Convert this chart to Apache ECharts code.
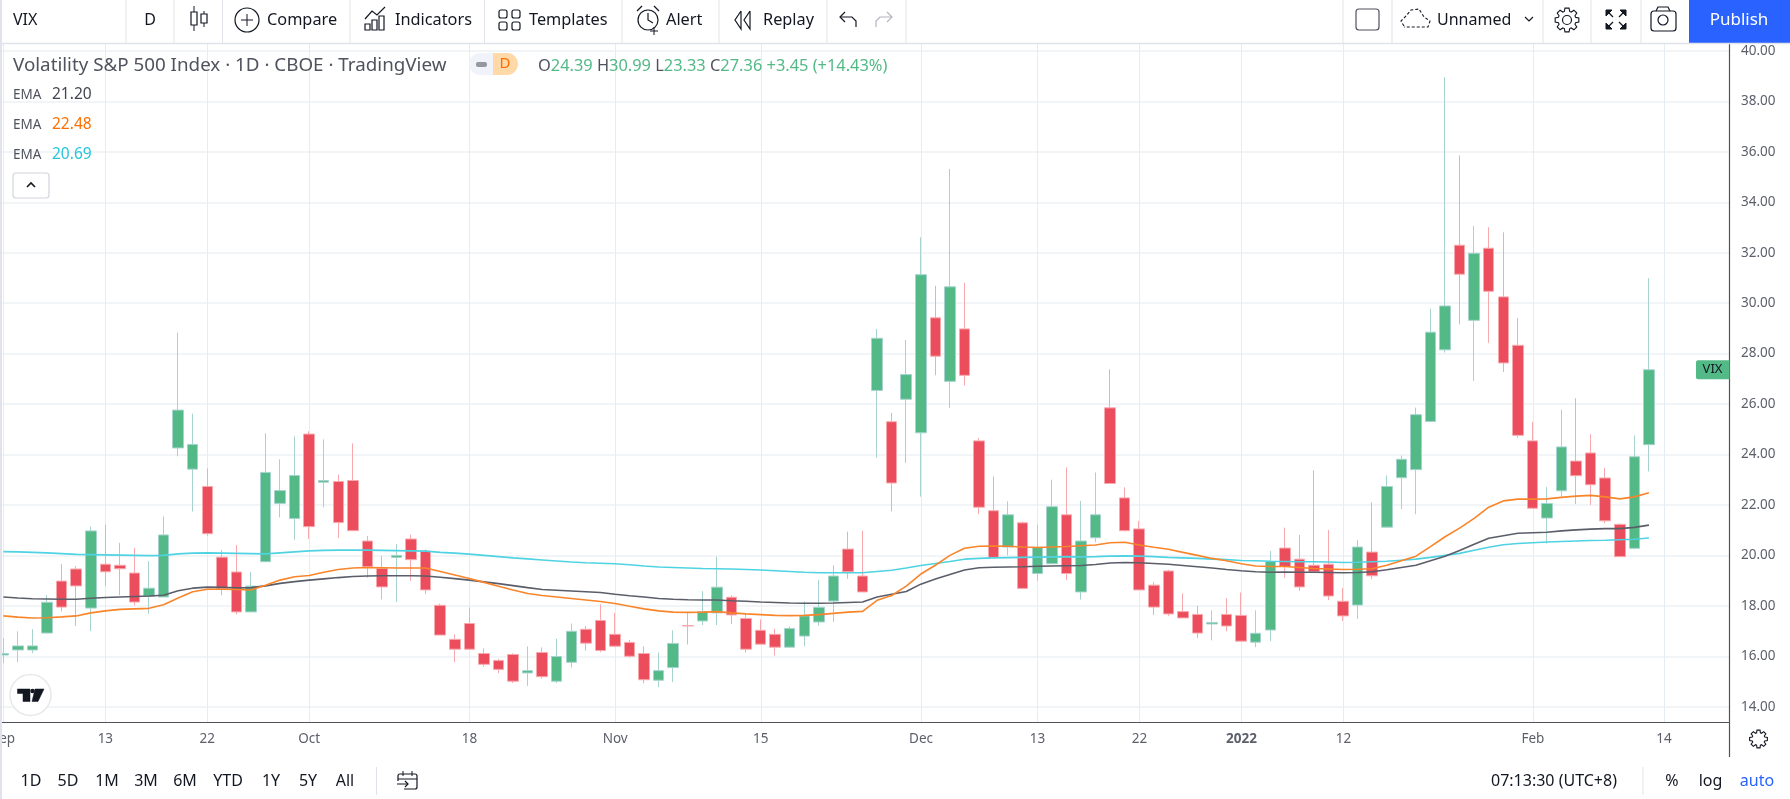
<!DOCTYPE html>
<html>
<head>
<meta charset="utf-8">
<title>VIX</title>
<style>
  html, body { margin: 0; padding: 0; background: #fff; }
  #main { width: 1790px; height: 799px; }
</style>
<script src="https://cdn.jsdelivr.net/npm/echarts@6/dist/echarts.min.js"></script>
</head>
<body>
<div id="main"></div>
<script>
// daily candles
const opens = [
  16.05,16.25,16.25,16.92,18.98,19.46,17.91,19.65,19.61,19.3,
  18.38,18.35,24.26,23.42,22.73,19.93,19.34,17.76,19.75,22.06,
  21.46,24.81,22.9,22.93,22.97,20.57,19.48,19.92,20.65,20.17,
  18.02,16.67,17.3,16.11,15.83,16.07,15.34,16.15,15.01,15.76,
  17.07,17.42,16.87,16.55,16.11,15.05,15.55,17.22,17.4,17.72,
  18.34,17.5,17.03,16.87,16.36,16.8,17.36,18.19,20.25,19.18,
  26.54,25.3,26.19,24.86,29.42,26.9,28.98,24.54,21.77,20.33,
  21.29,19.28,19.67,21.61,18.55,20.7,25.85,22.28,21.05,18.82,
  19.38,17.77,17.66,17.28,17.66,17.62,16.56,17.04,20.29,19.85,
  19.61,19.65,18.18,18.03,20.13,21.12,23.08,23.4,25.31,28.15,
  32.3,29.32,32.18,30.25,28.33,24.54,21.48,22.56,23.74,24.06,
  23.07,21.23,20.28,24.39
];
const closes = [
  16.11,16.41,16.41,18.14,17.95,18.79,20.97,19.35,19.47,18.15,
  18.7,20.81,25.76,24.4,20.86,18.69,17.76,18.78,23.29,22.57,
  23.17,21.14,22.97,21.3,20.98,19.55,18.75,20.0,19.83,18.63,
  16.84,16.28,16.28,15.68,15.48,15.01,15.43,15.19,15.99,16.99,
  16.52,16.23,16.4,16.0,15.07,15.43,16.51,17.2,17.77,18.74,
  17.64,16.28,16.48,16.36,17.1,17.6,17.94,19.18,19.35,18.55,
  28.61,22.87,27.17,31.13,27.9,30.65,27.14,21.91,19.92,21.61,
  18.69,20.32,21.93,19.28,20.57,21.61,22.85,20.98,18.63,17.95,
  17.68,17.52,16.92,17.34,17.2,16.6,16.91,19.76,19.56,18.75,
  19.35,18.39,17.6,20.33,19.19,22.73,23.81,25.58,28.85,29.89,
  31.15,31.98,30.47,27.63,24.76,21.87,22.06,24.3,23.16,22.8,
  21.37,19.95,23.91,27.36
];
const lows = [
  15.72,15.76,16.12,16.92,17.78,17.2,17.0,18.79,18.42,18.02,
  17.69,18.35,23.93,21.74,20.78,18.42,17.66,17.76,19.75,21.5,
  20.62,20.65,21.9,20.68,20.98,19.11,18.25,18.15,18.99,18.46,
  16.84,15.76,16.28,15.59,15.33,14.94,14.83,15.11,14.94,15.56,
  16.23,16.16,16.36,15.94,14.93,14.77,14.97,16.47,17.24,17.24,
  17.28,16.15,16.48,16.03,16.36,16.4,17.22,17.36,19.07,18.55,
  23.87,21.74,23.67,22.33,27.14,25.85,26.74,21.63,19.92,20.0,
  18.69,18.99,19.67,19.03,18.25,20.52,22.85,20.94,18.63,17.64,
  17.6,17.52,16.72,16.63,16.99,16.6,16.36,16.6,19.11,18.59,
  19.35,18.23,17.4,17.48,19.06,21.12,21.84,21.63,25.31,28.04,
  29.16,26.92,28.43,27.27,24.66,21.87,20.47,22.27,22.03,22.0,
  21.27,19.95,20.24,23.33
];
const highs = [
  16.72,16.99,17.07,18.42,19.65,19.58,21.14,21.21,20.5,20.3,
  19.77,21.54,28.83,25.62,23.45,20.21,20.41,19.34,24.84,23.81,
  24.72,24.92,24.6,23.2,24.44,20.77,19.97,20.45,20.82,20.24,
  18.09,16.87,17.93,16.31,15.9,16.12,16.39,16.35,16.69,17.3,
  17.2,18.06,17.72,16.65,16.39,16.15,17.03,17.72,18.58,19.95,
  18.42,17.69,17.46,17.09,17.18,18.18,19.02,19.61,20.94,20.98,
  28.98,25.65,28.54,32.61,30.69,35.32,30.81,24.66,23.13,22.14,
  21.34,21.21,23.0,23.49,22.16,23.29,27.38,22.7,21.37,18.94,
  19.43,18.49,18.0,17.82,18.3,18.53,17.82,20.17,21.1,20.81,
  23.37,21.01,18.7,20.61,22.1,23.17,23.96,25.86,29.78,38.96,
  35.86,33.07,33.01,32.81,29.42,25.3,22.71,25.78,26.23,24.8,
  23.47,21.27,24.76,30.99
];

const emaGray = [
  18.35,18.31,18.28,18.27,18.26,18.26,18.30,18.33,18.35,18.37,
  18.39,18.42,18.60,18.70,18.74,18.73,18.71,18.72,18.79,18.89,
  18.96,19.02,19.07,19.12,19.16,19.18,19.19,19.19,19.19,19.18,
  19.13,19.08,19.02,18.95,18.88,18.80,18.72,18.65,18.62,18.59,
  18.56,18.53,18.46,18.40,18.35,18.29,18.26,18.24,18.23,18.23,
  18.20,18.18,18.15,18.13,18.11,18.10,18.10,18.11,18.13,18.15,
  18.35,18.46,18.57,18.86,19.06,19.24,19.42,19.51,19.53,19.54,
  19.55,19.57,19.58,19.59,19.60,19.64,19.70,19.72,19.71,19.68,
  19.65,19.60,19.55,19.50,19.44,19.39,19.35,19.33,19.34,19.33,
  19.33,19.32,19.31,19.32,19.35,19.43,19.52,19.61,19.79,19.97,
  20.19,20.44,20.68,20.78,20.88,20.90,20.92,20.97,21.01,21.04,
  21.06,21.06,21.11,21.20
];
const emaOrange = [
  17.60,17.55,17.52,17.53,17.56,17.60,17.72,17.80,17.86,17.88,
  17.90,18.04,18.31,18.56,18.66,18.66,18.65,18.63,18.82,19.02,
  19.15,19.20,19.33,19.44,19.50,19.52,19.51,19.50,19.50,19.50,
  19.36,19.22,19.08,18.93,18.78,18.63,18.49,18.41,18.35,18.29,
  18.23,18.17,18.09,17.98,17.88,17.80,17.75,17.74,17.75,17.77,
  17.72,17.68,17.65,17.62,17.61,17.62,17.65,17.70,17.75,17.78,
  18.22,18.41,18.78,19.26,19.61,20.00,20.28,20.36,20.37,20.36,
  20.33,20.31,20.33,20.35,20.38,20.41,20.50,20.52,20.41,20.32,
  20.24,20.12,20.00,19.88,19.79,19.67,19.58,19.56,19.56,19.52,
  19.48,19.46,19.44,19.45,19.47,19.61,19.79,19.97,20.35,20.74,
  21.08,21.47,21.91,22.16,22.23,22.23,22.24,22.30,22.35,22.38,
  22.32,22.24,22.32,22.48
];
const emaCyan = [
  20.15,20.14,20.12,20.10,20.07,20.04,20.03,20.02,20.01,20.00,
  19.99,20.00,20.06,20.09,20.10,20.09,20.08,20.07,20.06,20.10,
  20.14,20.18,20.20,20.21,20.21,20.21,20.20,20.19,20.18,20.17,
  20.12,20.09,20.05,20.00,19.95,19.90,19.86,19.82,19.78,19.74,
  19.71,19.69,19.67,19.63,19.58,19.54,19.52,19.50,19.48,19.47,
  19.46,19.44,19.42,19.39,19.36,19.33,19.31,19.31,19.31,19.31,
  19.36,19.41,19.50,19.60,19.68,19.76,19.85,19.88,19.90,19.91,
  19.92,19.93,19.94,19.95,19.94,19.95,19.97,19.98,19.97,19.95,
  19.92,19.90,19.88,19.85,19.83,19.80,19.79,19.77,19.76,19.75,
  19.75,19.74,19.72,19.73,19.75,19.77,19.81,19.85,19.92,20.00,
  20.08,20.20,20.32,20.42,20.47,20.50,20.53,20.55,20.57,20.59,
  20.60,20.62,20.64,20.69
];

// date ticks by candle index, the last one sits past the data
const tickLabels = {
  0:'Sep',7:'13',14:'22',21:'Oct',32:'18',42:'Nov',52:'15',63:'Dec',
  71:'13',78:'22',85:'2022',92:'12',105:'Feb',114:'14'
};
const slotCount = 119;
const categories = [];
for (let i = 0; i < slotCount; i++) categories.push(tickLabels[i] || '');

const priceTicks = [14,16,18,20,22,24,26,28,30,32,34,36,38,40];
const rangeButtons = ['1D','5D','1M','3M','6M','YTD','1Y','5Y','All'];
const rangeCenters = [31,68,107,146,185,228,271,308,345];

const FONT = '"Noto Sans", "Open Sans", sans-serif';
const UP = '#53b987', DOWN = '#eb4d5c';
const BORDER = '#e0e3eb', INK = '#131722', MUTED = '#5d606b';

const candles = opens.map((o, i) => [o, closes[i], lows[i], highs[i]]);

function txt(x, y, text, size, fill, align, extra) {
  return { type:'text', silent:true, z:20, x:x, y:y, style:Object.assign({
    text:text, font:(size||15)+'px '+FONT, fill:fill||INK,
    textAlign:align||'left', textVerticalAlign:'middle' }, extra||{}) };
}
function seg(x1, y1, x2, y2, color, w) {
  return { type:'line', silent:true, z:20, shape:{x1:x1,y1:y1,x2:x2,y2:y2},
    style:{stroke:color||BORDER, lineWidth:w||1} };
}
function pline(points, color, w, closed, fill) {
  return { type:closed?'polygon':'polyline', silent:true, z:20, shape:{points:points},
    style:{stroke:color||INK, lineWidth:w||1.2, fill:fill||(closed?null:'none')} };
}
function box(x, y, w, h, color, fill, r) {
  return { type:'rect', silent:true, z:20, shape:{x:x,y:y,width:w,height:h,r:r||0},
    style:{stroke:color||null, fill:fill||'none', lineWidth:1.2} };
}
function circ(cx, cy, r, color, fill, w, dash) {
  return { type:'circle', silent:true, z:20, shape:{cx:cx,cy:cy,r:r},
    style:{stroke:color||null, fill:fill||'none', lineWidth:w||1.2, lineDash:dash||null} };
}
// gear outline for the settings buttons
function cog(cx, cy, rIn, rOut) {
  const pts = [];
  for (let k = 0; k < 8; k++) {
    const a = k * Math.PI / 4;
    [[-0.3,rIn],[-0.17,rOut],[0.17,rOut],[0.3,rIn]].forEach(p => {
      pts.push([cx + p[1]*Math.cos(a+p[0]), cy + p[1]*Math.sin(a+p[0])]);
    });
  }
  return pline(pts, INK, 1.1, true, '#fff');
}

function chrome() {
  const g = [];
  g.push({type:'rect',silent:true,z:15,shape:{x:0,y:0,width:1790,height:43},style:{fill:'#fff'}});
  g.push(seg(0,43.5,1790,43.5,BORDER,1.5));
  g.push(seg(1,0,1,799,BORDER,2));
  [126,174,222.5,350,484.5,622,719,827,906,1343,1392,1543,1591,1641].forEach(x => {
    g.push(seg(x,0,x,43,BORDER,1));
  });
  g.push({type:'rect',silent:true,z:19,shape:{x:1689,y:0,width:101,height:43},style:{fill:'#2962ff'}});
  g.push(txt(1739,20,'Publish',17,'#fff','center'));

  // toolbar left
  g.push(txt(13,20,'VIX',16));
  g.push(txt(150,20,'D',16,INK,'center'));
  g.push(seg(194,6,194,31,INK)); g.push(box(191,12,6,13,INK,'#fff'));
  g.push(seg(204,11,204,27,INK)); g.push(box(201,14,6,9,INK,'#fff'));
  g.push(circ(247,20,12,INK)); g.push(seg(241,20,253,20,INK)); g.push(seg(247,14,247,26,INK));
  g.push(txt(267,20,'Compare',16.3));
  g.push(pline([[365,19],[372,11],[377,15],[385,7]],INK));
  g.push(box(365,24,5,6,INK)); g.push(box(372,20,5,10,INK)); g.push(box(379,16,5,14,INK));
  g.push(txt(395,20,'Indicators',16.3));
  [[499,10],[512,10],[499,22],[512,22]].forEach(p => g.push(box(p[0],p[1],8,8,INK,null,2)));
  g.push(txt(529,20,'Templates',16.3));
  g.push(circ(648,20,10,INK)); g.push(pline([[648,13],[648,20],[653,23]],INK));
  g.push(pline([[637,11],[642,6]],INK)); g.push(pline([[654,6],[659,11]],INK));
  g.push(seg(654,27,654,35,INK)); g.push(seg(650,31,658,31,INK));
  g.push(txt(666,20,'Alert',16.3));
  g.push(pline([[741,11],[735,20],[741,29],[741,11]],INK)); g.push(pline([[750,11],[744,20],[750,29],[750,11]],INK));
  g.push(txt(763,20,'Replay',16.3));
  g.push(pline([[845,12],[840,17],[845,22]],INK)); g.push(pline([[840,17],[852,17],[856,21],[856,27]],INK));
  g.push(pline([[887,12],[892,17],[887,22]],'#b2b5be')); g.push(pline([[892,17],[880,17],[876,21],[876,27]],'#b2b5be'));

  // toolbar right
  g.push(box(1356,9,23,21,'#50535e','#fff',3));
  const cloud = pline([[1404,26],[1401,21],[1406,16],[1411,10],[1419,9],[1424,17],[1430,21],[1428,27],[1404,27]],INK,1.1,false);
  cloud.style.lineDash = [3,2];
  g.push(cloud);
  g.push(txt(1437,20,'Unnamed',16));
  g.push(pline([[1525,17],[1529,21],[1533,17]],INK));
  g.push(cog(1567,20,9,12)); g.push(circ(1567,20,4.5,INK));
  [[1606,10,1,1],[1626,10,-1,1],[1606,29,1,-1],[1626,29,-1,-1]].forEach(c => {
    g.push(pline([[c[0],c[1]],[c[0]+6*c[2],c[1]],[c[0],c[1]+6*c[3]]],INK,1,true,INK));
    g.push(seg(c[0]+3*c[2],c[1]+3*c[3],c[0]+7*c[2],c[1]+7*c[3],INK,1.3));
  });
  g.push(box(1651,11,25,20,INK,'#fff',3)); g.push(circ(1663,20,5,INK));
  g.push(pline([[1656,11],[1658,7],[1668,7],[1670,11]],INK));

  // header lines
  g.push(txt(13,66,'Volatility S&P 500 Index · 1D · CBOE · TradingView',18.8,'#50535e'));
  g.push(box(469,53,28,22,null,'#f0f3fa',[11,0,0,11]));
  g.push(box(476,62,11,5,null,'#9598a1',2));
  g.push(box(493,53,25,22,null,'#ffd9a8',[0,11,11,0]));
  g.push(txt(505,64,'D',15,'#ff6d00','center'));
  g.push(txt(538,66,'{k|O}{v|24.39} {k|H}{v|30.99} {k|L}{v|23.33} {k|C}{v|27.36} {v|+3.45 (+14.43%)}',16.4,UP,'left',{
    rich:{ k:{fill:'#50535e',font:'16.4px '+FONT}, v:{fill:UP,font:'16.4px '+FONT} } }));
  const legendRows = [['21.20','#434651',95],['22.48','#ff6d00',125],['20.69','#26c6da',155]];
  legendRows.forEach(r => {
    g.push(txt(13,r[2],'EMA',13.5,'#50535e'));
    g.push(txt(52,r[2],r[0],15.5,r[1]));
  });
  g.push(box(13,173,36,25,'#d1d4dc','#fff',3));
  g.push(pline([[27,187],[31,183],[35,187]],INK,1.6));

  // logo
  g.push(circ(30.5,695,20.5,'#e8e8e8','#fff',1.5));
  g.push(pline([[17.5,689],[30,689],[30,701.5],[23,701.5],[23,693.5],[17.5,693.5]],INK,0.5,true,INK));
  g.push(circ(32.5,691,2.2,null,INK));
  g.push(pline([[35,689],[44,689],[38,701.5],[32,701.5]],INK,0.5,true,INK));

  // axis frame and gear
  g.push(seg(1729.5,722,1729.5,757,'#50535e',1.2));
  g.push(cog(1758.5,739,6.5,9));

  // bottom bar
  rangeButtons.forEach((b,i) => g.push(txt(rangeCenters[i],781,b,16,INK,'center')));
  g.push(seg(376.5,767,376.5,795,BORDER));
  g.push(box(398,774,19,15,INK,'#fff',2));
  g.push(seg(398,779,417,779,INK)); g.push(seg(403,771,403,776,INK)); g.push(seg(412,771,412,776,INK));
  g.push(box(396,781,8,10,null,'#fff'));
  g.push(seg(397,784,408,784,INK)); g.push(pline([[405,781],[408,784],[405,787]],INK));
  g.push(txt(1554,781,'07:13:30 (UTC+8)',16,INK,'center'));
  g.push(seg(1643,767,1643,795,BORDER));
  g.push(txt(1672,781,'%',16,INK,'center'));
  g.push(txt(1710.5,781,'log',16,INK,'center'));
  g.push(txt(1757,781,'auto',16,'#2962ff','center'));
  return g;
}

const chart = echarts.init(document.getElementById('main'), null, {renderer:'canvas'});

chart.setOption({
  animation:false,
  backgroundColor:'#fff',
  textStyle:{fontFamily:FONT},
  grid:[
    // price grid: 14 to 40 exactly
    {left:-3.9, width:1732.9, top:51, height:655.7, outerBoundsMode:'none'},
    // frame grid: whole pane, carries the date axis and the verticals
    {left:-3.9, width:1733.4, top:43.5, height:678.8, outerBoundsMode:'none'}
  ],
  xAxis:[
    {type:'category', gridIndex:0, data:categories, boundaryGap:true,
      axisLine:{show:false}, axisTick:{show:false}, axisLabel:{show:false}, splitLine:{show:false}},
    {type:'category', gridIndex:1, data:categories, boundaryGap:true,
      axisLine:{lineStyle:{color:'#50535e',width:1.2}}, axisTick:{show:false},
      axisLabel:{
        interval:0, color:MUTED, fontSize:13.5, margin:10, hideOverlap:false,
        formatter:function (v) { return v === '2022' ? '{b|2022}' : v; },
        rich:{b:{fontWeight:'bold',fontSize:13.5,color:MUTED}}
      },
      splitLine:{show:true, alignWithLabel:true,
        interval:function (i) { return tickLabels[i] !== undefined; },
        lineStyle:{color:'#e3edf2',width:1}}
    }
  ],
  yAxis:[
    {type:'value', gridIndex:0, position:'right', min:priceTicks[0], max:priceTicks[priceTicks.length-1], interval:2,
      axisLine:{show:false}, axisTick:{show:false},
      axisLabel:{color:MUTED, fontSize:13.5, margin:12, formatter:function (v) { return v.toFixed(2); }},
      splitLine:{lineStyle:{color:'#eef2f6',width:1.5}}},
    {type:'value', gridIndex:1, position:'right', min:0, max:1,
      axisLine:{show:true,lineStyle:{color:'#50535e',width:1.2}}, axisTick:{show:false},
      axisLabel:{show:false}, splitLine:{show:false}}
  ],
  series:[
    {name:'VIX', type:'candlestick', xAxisIndex:0, yAxisIndex:0, data:candles, barWidth:11, z:3,
      itemStyle:{color:UP, color0:DOWN, borderColor:'#a6d3cf', borderColor0:'#f8a9ae', borderWidth:1}},
    {name:'EMA cyan', type:'line', xAxisIndex:0, yAxisIndex:0, data:emaCyan, showSymbol:false, z:4,
      lineStyle:{color:'#4fd3e2',width:1.6}},
    {name:'EMA gray', type:'line', xAxisIndex:0, yAxisIndex:0, data:emaGray, showSymbol:false, z:4,
      lineStyle:{color:'#5b5e69',width:1.6}},
    {name:'EMA orange', type:'line', xAxisIndex:0, yAxisIndex:0, data:emaOrange, showSymbol:false, z:5,
      lineStyle:{color:'#f9852a',width:1.6}}
  ],
  graphic:chrome()
});

// price tag follows the last close
const tagY = chart.convertToPixel({yAxisIndex:0}, closes[closes.length-1]);
const tag = [
  box(1696,tagY-9.5,33.5,19,null,UP,[2,0,0,2]),
  txt(1712.5,tagY,'VIX',13,INK,'center')
];
chart.setOption({graphic:chrome().concat(tag)}, {replaceMerge:['graphic']});

window.addEventListener('resize', function () { chart.resize(); });
</script>
</body>
</html>
